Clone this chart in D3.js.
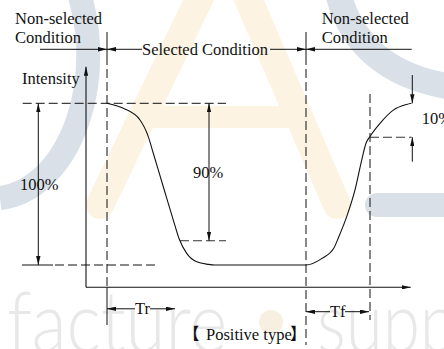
<!DOCTYPE html>
<html><head><meta charset="utf-8">
<script src="https://cdn.jsdelivr.net/npm/d3@7"></script>
<style>
body{margin:0;background:#fff}svg{display:block}
</style>
</head><body><svg id="c" width="444" height="349"></svg>
<script>
// ---- data ----
const curveTime      = [21, 37.3, 54, 62.3, 67.3, 77.3, 87.3, 93.3, 100.7, 110.7, 122.3, 129, 220, 236, 247.7, 252.7, 260.7, 269, 275.7, 280, 284, 294, 307.3, 320.7, 325.5];
const curveIntensity = [100, 96.9, 89.7, 79.4, 69.1, 48.4, 27.8, 15.9, 7.2, 2.0, 0.4, 0, 0, 4.1, 10.3, 17.3, 29.9, 46.4, 64.9, 75.3, 79.5, 87.6, 95.8, 99.3, 100];
const phaseTimes = [21, 220, 284];          // selected start, selected end, fall measured end
const trEndTime = 89;                       // end of Tr arrow
const ninetyStartTime = 94;                 // 90% level dashed start
const levelValues = [100, 0, 15, 79];       // full, zero, 90%-mark, 10%-mark
const textLabels = ["Non-selected", "Condition", "Selected Condition", "Intensity", "100%", "90%", "10%", "Tr", "Tf", "Positive type"];

// ---- scales ----
const x = d3.scaleLinear().domain([0, 325]).range([86, 411]);
const y = d3.scaleLinear().domain([0, 100]).range([265, 103.3]);

const svg = d3.select('#c');
const defs = svg.append('defs');
defs.append('marker').attr('id', 'ah').attr('viewBox', '0 0 9 4.4').attr('refX', 9).attr('refY', 2.2)
  .attr('markerWidth', 9).attr('markerHeight', 4.4).attr('markerUnits', 'userSpaceOnUse')
  .attr('orient', 'auto-start-reverse')
  .append('path').attr('d', 'M0,0 L9,2.2 L0,4.4 Z').attr('fill', '#111');

// ---- watermark ----
const wm = svg.append('g');
const blue = '#d9e0e8', orange = '#fdf3e2';
wm.append('path').attr('d', 'M 74 -20 A 95 143 0 0 1 0 198').attr('fill', 'none').attr('stroke', blue).attr('stroke-width', 24);
wm.append('path').attr('d', 'M 100 205 L 225 -55 L 337 205').attr('fill', 'none').attr('stroke', orange).attr('stroke-width', 28).attr('stroke-linecap', 'round').attr('stroke-linejoin', 'round');
wm.append('line').attr('x1', 142).attr('x2', 299).attr('y1', 117).attr('y2', 117).attr('stroke', orange).attr('stroke-width', 22);
wm.append('path').attr('d', 'M 335 -20 Q 352 75 460 88').attr('fill', 'none').attr('stroke', blue).attr('stroke-width', 26);
wm.append('line').attr('x1', 377).attr('x2', 470).attr('y1', 205).attr('y2', 205).attr('stroke', blue).attr('stroke-width', 24).attr('stroke-linecap', 'round');
wm.append('text').style('font-family', "'Lato'").style('font-weight', 300).attr('x', 7).attr('y', 352)
  .attr('textLength', 220).attr('lengthAdjust', 'spacingAndGlyphs')
  .attr('font-size', 85).attr('fill', '#e8e8e8').text('facture');
wm.append('circle').attr('cx', 271).attr('cy', 322).attr('r', 12).attr('fill', '#f7efe0');
wm.append('text').style('font-family', "'Lato'").style('font-weight', 300).attr('x', 317).attr('y', 352)
  .attr('textLength', 140).attr('lengthAdjust', 'spacingAndGlyphs')
  .attr('font-size', 85).attr('fill', '#e8e8e8').text('supp');

// ---- helpers ----
const g = svg.append('g');
function seg(x1, y1, x2, y2, o = {}) {
  const l = g.append('line').attr('x1', x1).attr('y1', y1).attr('x2', x2).attr('y2', y2)
    .attr('stroke', o.color || '#111').attr('stroke-width', o.w || 1);
  if (o.dash) l.attr('stroke-dasharray', '9,4');
  if (o.start) l.attr('marker-start', 'url(#ah)');
  if (o.end) l.attr('marker-end', 'url(#ah)');
  return l;
}
function txt(s, tx, ty, o = {}) {
  return g.append('text').style('font-family', o.fam || "'Liberation Serif'").attr('x', tx).attr('y', ty)
    .attr('font-size', o.size || 16.5).attr('fill', '#111').text(s);
}

const xOn = x(phaseTimes[0]), xOff = x(phaseTimes[1]), xFall = x(phaseTimes[2]);
const yFull = y(levelValues[0]), yZero = y(levelValues[1]), y90 = y(levelValues[2]), y10 = y(levelValues[3]);
const axisY = 287.3;

// axes
seg(x(0), axisY, x(0), 66.7, {end: true, w: 1.1});
seg(x(0), axisY, 410.7, axisY, {end: true, w: 1.1});

// phase lines
seg(xOn, 32, xOn, 56);
seg(xOn, 56, xOn, axisY, {dash: true});
seg(xOn, axisY, xOn, 325);
seg(xOff, 32, xOff, 56);
seg(xOff, 56, xOff, 345, {dash: true});
seg(xFall, 94, xFall, 320, {dash: true});

// top condition line
const yTop = 49.3;
seg(40, yTop, xOn, yTop, {end: true});
seg(142, yTop, xOn, yTop, {end: true});
seg(270, yTop, xOff, yTop, {end: true});
seg(411.7, yTop, xOff, yTop, {end: true});

// level lines
seg(22.7, yFull, 226, yFull, {dash: true});
seg(22, yZero, 53, yZero);
seg(55, yZero, 158, yZero, {dash: true});
seg(x(ninetyStartTime), y90, 226, y90, {dash: true, color: '#333'});
seg(xFall, y10, 411.7, y10, {dash: true, color: '#333'});

// dimension arrows
seg(38.3, yFull, 38.3, yZero, {start: true, end: true});
seg(209, yFull, 209, y90, {start: true, end: true});
seg(412.3, 75, 412.3, yFull, {end: true});
seg(412.3, 161.7, 412.3, y10, {end: true});
seg(135, 308.8, xOn, 308.8, {end: true});
seg(150, 308.8, x(trEndTime), 308.8, {end: true});
seg(330, 311.7, xOff, 311.7, {end: true});
seg(345, 311.7, 369, 311.7, {end: true});

// curve
const pts = curveTime.map((t, i) => [x(t), y(curveIntensity[i])]);
g.append('path').attr('d', d3.line().curve(d3.curveMonotoneX)(pts))
  .attr('fill', 'none').attr('stroke', '#111').attr('stroke-width', 1.1);

// texts
txt(textLabels[0], 15, 24);
txt(textLabels[1], 15, 42.7);
txt(textLabels[0], 321.7, 24);
txt(textLabels[1], 321.7, 42.7);
txt(textLabels[2], 142, 55);
txt(textLabels[3], 22, 83.5);
txt(textLabels[4], 20, 190);
txt(textLabels[5], 193, 178.3);
txt(textLabels[6], 421.7, 124);
txt(textLabels[7], 135, 313.5);
txt(textLabels[8], 330, 316.7);
txt('【', 183, 340, {fam: "'Noto Sans CJK SC'"});
txt(textLabels[9], 206, 340);
txt('】', 290, 340, {fam: "'Noto Sans CJK SC'"});
</script></body></html>
